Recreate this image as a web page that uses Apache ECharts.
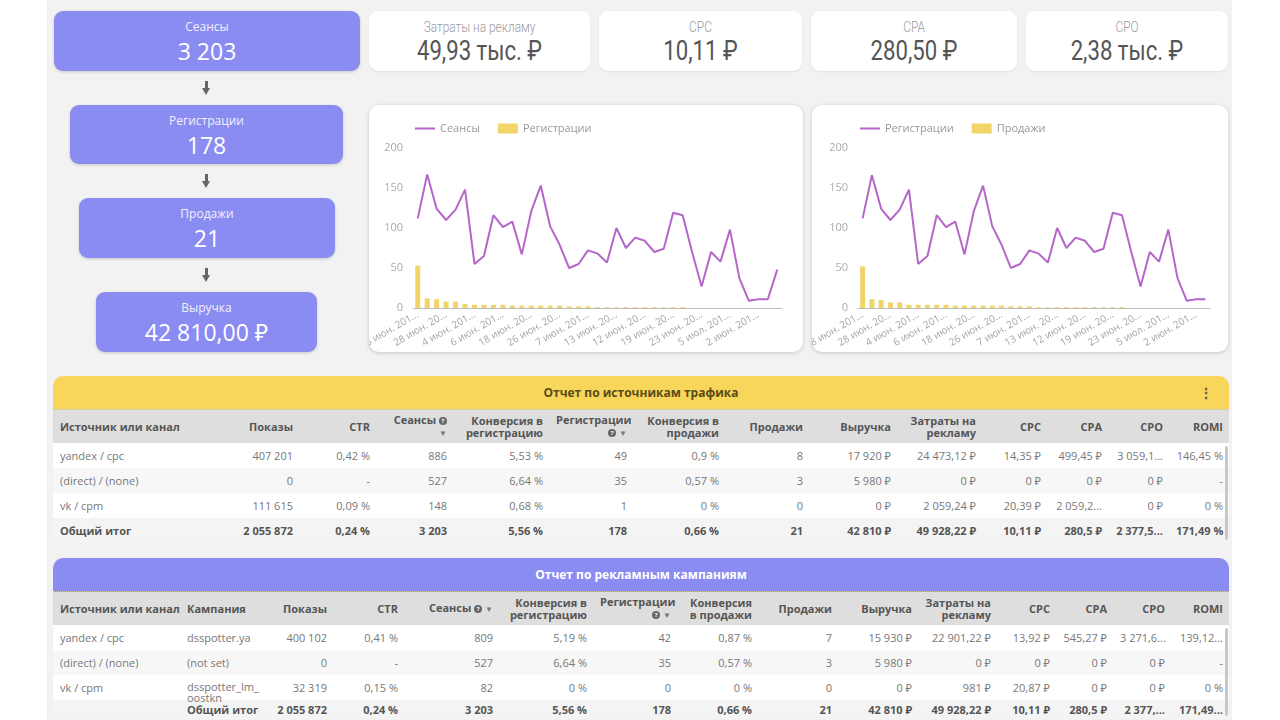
<!DOCTYPE html>
<html>
<head>
<meta charset="utf-8">
<script src="https://cdn.jsdelivr.net/npm/echarts@6/dist/echarts.min.js"></script>
<style>
  html, body { margin: 0; padding: 0; width: 1280px; height: 720px; overflow: hidden; background: #fff; font-family: 'Open Sans', 'Noto Sans', sans-serif; }
  #panel { position: absolute; left: 47px; top: 0; width: 1185px; height: 720px; background: #f2f2f2; }
  .box { position: absolute; background: #8b8cf1; border-radius: 9px; color: #fff; text-align: center; box-shadow: 0 1px 3px rgba(0,0,0,.18); }
  .box .lb { position: absolute; left: 0; right: 0; top: 7px; font-size: 12px; color: #f0f0ff; }
  .box .vl { position: absolute; left: 0; right: 0; top: 24px; font-size: 23px; line-height: 32px; }
  .arrow { position: absolute; left: 202px; width: 9px; height: 15px; }
  .arrow:before { content: ''; position: absolute; left: 3px; top: 0; width: 3px; height: 8px; background: #666; }
  .arrow:after { content: ''; position: absolute; left: 0; top: 7px; border-left: 4.5px solid transparent; border-right: 4.5px solid transparent; border-top: 7px solid #666; }
  .kpi { position: absolute; top: 11px; height: 60px; background: #fff; border-radius: 9px; text-align: center; box-shadow: 0 1px 2px rgba(0,0,0,.08); font-family: 'Roboto', 'Open Sans', sans-serif; }
  .kpi .lb { position: absolute; left: 0; right: 0; top: 8px; font-size: 14px; color: #999; font-weight: 300; transform: scaleX(0.85); }
  .kpi .vl { position: absolute; left: 0; right: 0; top: 23px; font-size: 27px; line-height: 34px; color: #555; font-weight: 400; transform: scaleX(0.82); }
  .card { position: absolute; top: 105px; height: 247px; background: #fff; border-radius: 10px; box-shadow: 0 1px 4px rgba(0,0,0,.18); }
  .tbl { position: absolute; left: 53px; width: 1176px; border-radius: 10px 10px 0 0; overflow: hidden; }
  .tbl .ttl { height: 34px; line-height: 34px; text-align: center; font-size: 12px; font-weight: bold; border-bottom: 1px dotted #cfc9a8; box-sizing: border-box; position: relative; }
  .tbl table { border-collapse: collapse; table-layout: fixed; width: 1176px; font-size: 11px; }
  .tbl td { padding: 0 6px 0 7px; text-align: right; color: #777; white-space: nowrap; overflow: hidden; height: 25px; }
  .tbl td.l { text-align: left; }
  .tbl tr.hd td { background: #dedede; color: #555; font-weight: bold; height: 33px; line-height: 12px; }
  .tbl tr.r0 td { background: #fff; }
  .tbl tr.r1 td { background: #f7f7f7; }
  .tbl tr.tot td { background: #f4f4f4; color: #555; font-weight: bold; }
  #t2 tr.tot td { height: 19px; line-height: 19px; }
  .ic { display: inline-block; width: 8px; height: 8px; border-radius: 50%; background: #666; color: #fff; font-size: 6px; line-height: 8px; text-align: center; vertical-align: 1px; }
  .sa { font-size: 8px; color: #777; }
  .tbl td.wrap { white-space: normal; vertical-align: top; overflow: visible; font-size: 0; line-height: 0; }
  .wrap div { height: 25px; font-size: 11px; line-height: 11px; padding-top: 6px; box-sizing: border-box; overflow: visible; }
  .sb { position: absolute; left: 1225px; width: 3px; background: #c8c8c8; border-radius: 2px; }
</style>
</head>
<body>
<div id="panel"></div>

<div class="box" style="left:54px;top:11px;width:306px;height:60px"><div class="lb">Сеансы</div><div class="vl">3 203</div></div>
<div class="arrow" style="top:81px"></div>
<div class="box" style="left:70px;top:105px;width:273px;height:59px"><div class="lb">Регистрации</div><div class="vl">178</div></div>
<div class="arrow" style="top:174px"></div>
<div class="box" style="left:79px;top:198px;width:256px;height:60px"><div class="lb">Продажи</div><div class="vl">21</div></div>
<div class="arrow" style="top:268px"></div>
<div class="box" style="left:96px;top:292px;width:221px;height:60px"><div class="lb">Выручка</div><div class="vl">42 810,00 ₽</div></div>

<div class="kpi" style="left:369px;width:221px"><div class="lb">Затраты на рекламу</div><div class="vl">49,93 тыс. ₽</div></div>
<div class="kpi" style="left:599px;width:203px"><div class="lb">CPC</div><div class="vl">10,11 ₽</div></div>
<div class="kpi" style="left:811px;width:206px"><div class="lb">CPA</div><div class="vl">280,50 ₽</div></div>
<div class="kpi" style="left:1026px;width:202px"><div class="lb">CPO</div><div class="vl">2,38 тыс. ₽</div></div>

<div class="card" id="chart1" style="left:369px;width:434px"></div>
<div class="card" id="chart2" style="left:812px;width:416px"></div>

<div class="tbl" id="t1" style="top:376px"></div>
<div class="tbl" id="t2" style="top:558px"></div>
<div class="sb" style="top:446px;height:94px"></div>
<div class="sb" style="top:628px;height:88px"></div>

<script>
// даты (категории оси X)
var dates = ['8 июн. 2019 г.','15 июн. 2019 г.','27 июн. 2019 г.','28 июн. 2019 г.','10 июн. 2019 г.','3 июл. 2019 г.',
  '4 июн. 2019 г.','20 июн. 2019 г.','1 июл. 2019 г.','6 июн. 2019 г.','11 июн. 2019 г.','24 июн. 2019 г.',
  '18 июн. 2019 г.','9 июн. 2019 г.','30 июн. 2019 г.','26 июн. 2019 г.','14 июн. 2019 г.','2 июл. 2019 г.',
  '7 июн. 2019 г.','21 июн. 2019 г.','4 июл. 2019 г.','13 июн. 2019 г.','16 июн. 2019 г.','25 июн. 2019 г.',
  '12 июн. 2019 г.','17 июн. 2019 г.','29 июн. 2019 г.','19 июн. 2019 г.','22 июн. 2019 г.','6 июл. 2019 г.',
  '23 июн. 2019 г.','7 июл. 2019 г.','3 июн. 2019 г.','5 июл. 2019 г.','5 июн. 2019 г.','8 июл. 2019 г.',
  '2 июн. 2019 г.','9 июл. 2019 г.','10 июл. 2019 г.'];

// левый график: Сеансы (линия) и Регистрации (столбцы)
var sessions = [112,167,124,110,123,148,55,65,116,101,108,67,121,153,102,79,50,55,72,68,57,100,75,88,84,70,74,119,116,70,27,70,58,98,37,9,11,11,48];
var registrations = [53,12,11,8,8,5,4,4,4,4,3,3,3,3,3,3,2,2,2,1,1,1,1,1,1,1,1,1,1,0,0,0,0,0,0,0,0,0,0];

// правый график: Регистрации (линия) и Продажи (столбцы)
var regLine = [112,166,124,110,123,148,55,65,116,101,108,67,121,153,102,79,50,55,72,68,57,100,75,88,84,70,74,119,116,70,27,70,58,98,37,9,11,11];
var sales = [52,11,10,7,7,4,4,4,4,4,3,3,3,3,3,3,2,2,2,1,1,1,1,1,1,1,1,1,1,0,0,0,0,0,0,0,0,0];

var yTicks = [0, 200, 50];   // min, max, interval

// таблица 1
var t1Cols = ['Источник или канал','Показы','CTR','Сеансы <span class="ic">?</span><br><span class="sa">▼</span>','Конверсия в<br>регистрацию',
  'Регистрации<br><span class="ic">?</span> <span class="sa">▼</span>','Конверсия в<br>продажи','Продажи','Выручка','Затраты на<br>рекламу','CPC','CPA','CPO','ROMI'];
var t1Widths = [177,69,77,77,96,84,92,84,88,85,65,61,61,60];
var t1Rows = [
  ['yandex / cpc','407 201','0,42 %','886','5,53 %','49','0,9 %','8','17 920 ₽','24 473,12 ₽','14,35 ₽','499,45 ₽','3 059,1...','146,45 %'],
  ['(direct) / (none)','0','-','527','6,64 %','35','0,57 %','3','5 980 ₽','0 ₽','0 ₽','0 ₽','0 ₽','-'],
  ['vk / cpm','111 615','0,09 %','148','0,68 %','1','0 %','0','0 ₽','2 059,24 ₽','20,39 ₽','2 059,2...','0 ₽','0 %']
];
var t1Total = ['Общий итог','2 055 872','0,24 %','3 203','5,56 %','178','0,66 %','21','42 810 ₽','49 928,22 ₽','10,11 ₽','280,5 ₽','2 377,5...','171,49 %'];

// таблица 2
var t2Cols = ['Источник или канал','Кампания','Показы','CTR','Сеансы <span class="ic">?</span> <span class="sa">▼</span>','Конверсия в<br>регистрацию',
  'Регистрации<br><span class="ic">?</span> <span class="sa">▼</span>','Конверсия<br>в продажи','Продажи','Выручка','Затраты на<br>рекламу','CPC','CPA','CPO','ROMI'];
var t2Widths = [127,88,65,71,95,94,84,81,80,80,79,59,57,58,58];
var t2Rows = [
  ['yandex / cpc','dsspotter.ya','400 102','0,41 %','809','5,19 %','42','0,87 %','7','15 930 ₽','22 901,22 ₽','13,92 ₽','545,27 ₽','3 271,6...','139,12...'],
  ['(direct) / (none)','(not set)','0','-','527','6,64 %','35','0,57 %','3','5 980 ₽','0 ₽','0 ₽','0 ₽','0 ₽','-'],
  ['vk / cpm','dsspotter_lm_ oostkn','32 319','0,15 %','82','0 %','0','0 %','0','0 ₽','981 ₽','20,87 ₽','0 ₽','0 ₽','0 %']
];
var t2Total = ['','Общий итог','2 055 872','0,24 %','3 203','5,56 %','178','0,66 %','21','42 810 ₽','49 928,22 ₽','10,11 ₽','280,5 ₽','2 377,...','171,49...'];

function buildTable(id, title, bg, color, cols, widths, rows, total, leftCols) {
  var h = '<div class="ttl" style="background:' + bg + ';color:' + color + '">' + title;
  if (id === 't1') h += '<span style="position:absolute;right:16px;top:0;color:#555;font-size:14px">⋮</span>';
  h += '</div><table><colgroup>';
  widths.forEach(function (w) { h += '<col style="width:' + w + 'px">'; });
  h += '</colgroup><tr class="hd">';
  cols.forEach(function (c, i) { h += '<td class="' + (i < leftCols ? 'l' : '') + '">' + c + '</td>'; });
  h += '</tr>';
  rows.forEach(function (r, k) {
    h += '<tr class="r' + (k % 2) + '">';
    r.forEach(function (v, i) {
      var cls = i < leftCols ? 'l' : '';
      if (v.indexOf('_ ') > 0) {
        // длинное название кампании переносится на вторую строку
        h += '<td class="' + cls + ' wrap"><div>' + v + '</div></td>';
      } else {
        h += '<td class="' + cls + '">' + v + '</td>';
      }
    });
    h += '</tr>';
  });
  h += '<tr class="tot">';
  total.forEach(function (v, i) { h += '<td class="' + (i < leftCols ? 'l' : '') + '">' + v + '</td>'; });
  h += '</tr></table>';
  document.getElementById(id).innerHTML = h;
}

buildTable('t1', 'Отчет по источникам трафика', '#f8d65c', '#5a4c16', t1Cols, t1Widths, t1Rows, t1Total, 1);
buildTable('t2', 'Отчет по рекламным кампаниям', '#8b8cf1', '#fff', t2Cols, t2Widths, t2Rows, t2Total, 2);
document.getElementById('t1').style.height = '167px';
document.getElementById('t2').style.height = '162px';

// иконка-линия для легенды (крошечные точки по углам задают высоту рамки)
var lineIcon = 'path://M0,0L0.1,0L0,0.1Z M0,4L20,4L20,6L0,6Z M20,10L19.9,10L20,9.9Z';

function makeChart(id, lineName, barName, lineData, barData, gridLeft, gridRight) {
  var chart = echarts.init(document.getElementById(id), null, { renderer: 'canvas' });
  chart.setOption({
    animation: false,
    textStyle: { fontFamily: 'Open Sans' },
    legend: {
      left: gridLeft - 3, top: 13, itemWidth: 20, itemHeight: 10, itemGap: 18,
      textStyle: { color: '#999', fontSize: 11 },
      data: [{ name: lineName, icon: lineIcon }, { name: barName, icon: 'rect' }]
    },
    grid: { left: gridLeft, right: gridRight, top: 43, bottom: 44, containLabel: false, outerBoundsMode: 'none' },
    xAxis: {
      type: 'category',
      data: dates.slice(0, lineData.length),
      axisTick: { show: false },
      axisLine: { lineStyle: { color: '#bdbdbd' } },
      axisLabel: {
        interval: 2, rotate: 30, color: '#a5a5a5', fontSize: 10, margin: 6,
        // подписи обрезаются до 10 символов, как в отчёте
        formatter: function (v) { return v.length > 10 ? v.slice(0, 10) + '...' : v; }
      }
    },
    yAxis: {
      type: 'value', min: yTicks[0], max: yTicks[1], interval: yTicks[2],
      splitLine: { show: false },
      axisLine: { show: false },
      axisTick: { show: false },
      axisLabel: { color: '#aaa', fontSize: 11, margin: 10 }
    },
    series: [
      {
        name: lineName, type: 'line', data: lineData, symbol: 'none',
        lineStyle: { color: '#b467c8', width: 2 }, itemStyle: { color: '#b467c8' }, z: 3
      },
      {
        name: barName, type: 'bar', data: barData, barWidth: 5,
        itemStyle: { color: '#f2d469' }
      }
    ]
  });
}

makeChart('chart1', 'Сеансы', 'Регистрации', sessions, registrations, 44, 21);
makeChart('chart2', 'Регистрации', 'Продажи', regLine, sales, 46, 18);
</script>
</body>
</html>
